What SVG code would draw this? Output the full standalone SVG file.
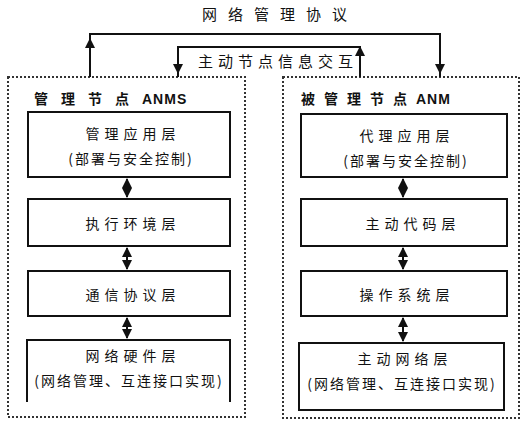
<svg xmlns="http://www.w3.org/2000/svg" width="524" height="421" viewBox="0 0 524 421">
<style>
text{font-family:"Noto Sans CJK SC","Liberation Sans",sans-serif;font-size:14px;fill:#111;text-anchor:middle;letter-spacing:2px}
.hdr{font-weight:bold;text-anchor:start}
.box{fill:none;stroke:#111;stroke-width:2}
.dash{fill:none;stroke:#333;stroke-width:2;stroke-dasharray:2 2}
.ln{fill:none;stroke:#111;stroke-width:2}
.ah{fill:#111}
</style>
<defs>
<marker id="hd" viewBox="0 0 10 10" refX="9" refY="5" markerWidth="10" markerHeight="10" orient="auto-start-reverse" markerUnits="userSpaceOnUse">
<path d="M0,0 L10,5 L0,10 z" fill="#111"/>
</marker>
</defs>
<rect width="524" height="421" fill="#fff"/>
<g id="labels">
<text x="280" y="20" style="letter-spacing:11px;font-size:15px">网络管理协议</text>
<text x="278" y="67" style="letter-spacing:5px;font-size:15px">主动节点信息交互</text>
</g>
<g id="ANMS">
<rect class="dash" x="8" y="77" width="237" height="340"/>
<text class="hdr" x="34" y="104" style="letter-spacing:13px">管理节点<tspan font-family="Liberation Sans" font-weight="bold" letter-spacing="1">ANMS</tspan></text>
</g>
<g id="ANM">
<rect class="dash" x="283" y="77" width="236" height="341"/>
<text class="hdr" x="301" y="104" style="letter-spacing:9px">被管理节点<tspan font-family="Liberation Sans" font-weight="bold" letter-spacing="1">ANM</tspan></text>
</g>
<g id="L1"><rect class="box" x="28" y="112" width="202" height="65"/><text x="133" y="139" style="letter-spacing:5px">管理应用层</text><text x="131" y="164">(部署与安全控制)</text></g>
<g id="L2"><rect class="box" x="28" y="199" width="202" height="47"/><text x="133" y="229" style="letter-spacing:5px">执行环境层</text></g>
<g id="L3"><rect class="box" x="28" y="271" width="202" height="45"/><text x="133" y="300" style="letter-spacing:5px">通信协议层</text></g>
<g id="L4"><path class="box" d="M27,402 V340 H230 V402"/><text x="133" y="361" style="letter-spacing:5px">网络硬件层</text><text x="129" y="386">(网络管理、互连接口实现)</text></g>
<g id="R1"><rect class="box" x="301" y="114" width="206" height="63"/><text x="407" y="141" style="letter-spacing:5px">代理应用层</text><text x="406" y="166">(部署与安全控制)</text></g>
<g id="R2"><rect class="box" x="301" y="199" width="206" height="47"/><text x="413" y="229" style="letter-spacing:5px">主动代码层</text></g>
<g id="R3"><rect class="box" x="301" y="271" width="206" height="45"/><text x="407" y="300" style="letter-spacing:5px">操作系统层</text></g>
<g id="R4"><rect class="box" x="299" y="343" width="205" height="67"/><text x="405" y="364" style="letter-spacing:5px">主动网络层</text><text x="402" y="389">(网络管理、互连接口实现)</text></g>
<g id="connectors">
<path class="ln" stroke-width="2.5" d="M90,77 V34 H440 V77"/>
<path class="ah" d="M85,48 L90,38 L95,48 z"/>
<path class="ah" d="M435,64 L440,74 L445,64 z"/>
<path class="ln" d="M178,77 V47 H360 V77"/>
<path class="ah" d="M173,64 L178,74 L183,64 z"/>
<path class="ah" d="M355,56 L360,46 L365,56 z"/>
<line class="ln" x1="127" y1="179" x2="127" y2="197" marker-start="url(#hd)" marker-end="url(#hd)"/>
<line class="ln" x1="127" y1="248" x2="127" y2="269" marker-start="url(#hd)" marker-end="url(#hd)"/>
<line class="ln" x1="127" y1="318" x2="127" y2="338" marker-start="url(#hd)" marker-end="url(#hd)"/>
<line class="ln" x1="403" y1="179" x2="403" y2="197" marker-start="url(#hd)" marker-end="url(#hd)"/>
<line class="ln" x1="403" y1="248" x2="403" y2="269" marker-start="url(#hd)" marker-end="url(#hd)"/>
<line class="ln" x1="403" y1="318" x2="403" y2="341" marker-start="url(#hd)" marker-end="url(#hd)"/>
</g>
</svg>
